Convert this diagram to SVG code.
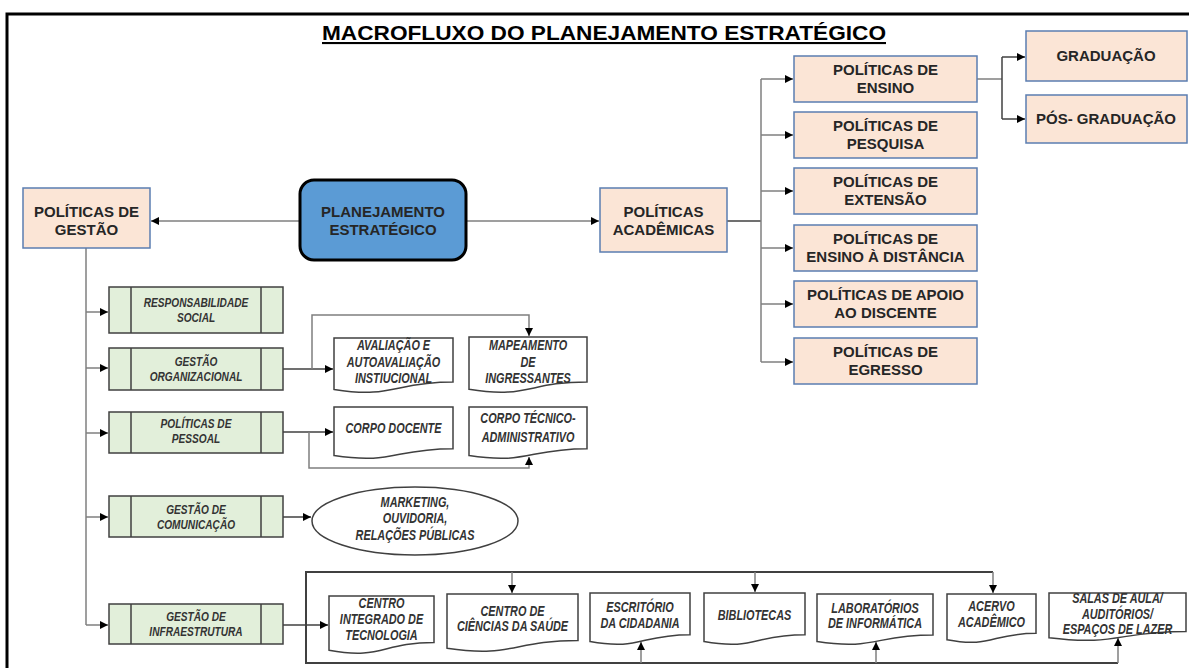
<svg xmlns="http://www.w3.org/2000/svg" width="1189" height="668" viewBox="0 0 1189 668">
<style>
.pk{fill:#FBE5D6;stroke:#5B7DB1;stroke-width:1.5}
.pt{font-family:"Liberation Sans",Arial,sans-serif;font-weight:bold;font-size:15px;fill:#262626;text-anchor:middle}
.gr{fill:#E2EFDA;stroke:#404040;stroke-width:1.5}
.gl{stroke:#404040;stroke-width:1.5}
.it{font-family:"Liberation Sans",Arial,sans-serif;font-weight:bold;font-style:italic;fill:#333;text-anchor:middle}
.g12{font-size:13.5px}
.d13{font-size:14.5px}
.doc{fill:#fff;stroke:#404040;stroke-width:1.5}
.c{fill:none;stroke:#7f7f7f;stroke-width:1.5}
.cd{fill:none;stroke:#404040;stroke-width:1.5}
.ca{fill:none;stroke:#7f7f7f;stroke-width:1.5;marker-end:url(#ah)}
.cda{fill:none;stroke:#404040;stroke-width:1.5;marker-end:url(#ah)}
</style>
<defs>
<marker id="ah" viewBox="0 0 10 10" refX="10" refY="5" markerWidth="8" markerHeight="8" markerUnits="userSpaceOnUse" orient="auto"><path d="M0,0 L10,5 L0,10 z" fill="#000"/></marker>
</defs>
<rect width="1189" height="668" fill="#fff"/>
<path d="M7 668 V14 H1189" fill="none" stroke="#000" stroke-width="3"/>
<text x="604" y="40" font-family="Liberation Sans,Arial,sans-serif" font-weight="bold" font-size="21" text-anchor="middle" text-decoration="underline" textLength="564" lengthAdjust="spacingAndGlyphs" fill="#000">MACROFLUXO DO PLANEJAMENTO ESTRATÉGICO</text>

<g id="connectors">
<path class="ca" d="M300 221 H151"/>
<path class="ca" d="M466 221 H599"/>
<path class="cd" d="M727 221 H761"/>
<path class="c" d="M761 79 V362"/>
<path class="ca" d="M761 79 H793"/>
<path class="ca" d="M761 135 H793"/>
<path class="ca" d="M761 191 H793"/>
<path class="ca" d="M761 248 H793"/>
<path class="ca" d="M761 304 H793"/>
<path class="ca" d="M761 362 H793"/>
<path class="c" d="M977 79 H1002"/>
<path class="cd" d="M1002 57 V119"/>
<path class="cda" d="M1002 57 H1025"/>
<path class="cda" d="M1002 119 H1025"/>
<path class="c" d="M86 248 V625"/>
<path class="ca" d="M86 312 H108"/>
<path class="ca" d="M86 368 H108"/>
<path class="ca" d="M86 433 H108"/>
<path class="ca" d="M86 517 H108"/>
<path class="ca" d="M86 625 H108"/>
<path class="cda" d="M283 369 H333"/>
<path class="ca" d="M312 369 V315 H529 V336"/>
<path class="cda" d="M283 432 H333"/>
<path class="ca" d="M309 432 V468 H529 V457"/>
<path class="cda" d="M282 517 H311"/>
<path class="cda" d="M282 625 H328"/>
<path fill="none" stroke="#404040" stroke-width="2" d="M993 572 H306 V663 H1118"/>
<path class="ca" d="M512 572 V593"/>
<path class="ca" d="M755 572 V592"/>
<path class="ca" d="M993 572 V593"/>
<path class="ca" d="M641 663 V642"/>
<path class="ca" d="M876 663 V642"/>
<path class="ca" d="M1118 663 V638"/>
</g>

<g id="planejamento">
<rect x="300" y="180" width="166" height="80" rx="14" fill="#5B9BD5" stroke="#000" stroke-width="3"/>
<text class="pt" x="383" y="217">PLANEJAMENTO</text>
<text class="pt" x="383" y="235">ESTRATÉGICO</text>
</g>
<g id="gestao">
<rect class="pk" x="23" y="188" width="127" height="60"/>
<text class="pt" x="86.5" y="217">POLÍTICAS DE</text>
<text class="pt" x="86.5" y="235">GESTÃO</text>
</g>
<g id="academicas">
<rect class="pk" x="600" y="188" width="127" height="64"/>
<text class="pt" x="663.5" y="217">POLÍTICAS</text>
<text class="pt" x="663.5" y="235">ACADÊMICAS</text>
</g>
<g id="ensino">
<rect class="pk" x="794" y="56" width="183" height="46"/>
<text class="pt" x="885.5" y="75">POLÍTICAS DE</text>
<text class="pt" x="885.5" y="93">ENSINO</text>
</g>
<g id="pesquisa">
<rect class="pk" x="794" y="112" width="183" height="46"/>
<text class="pt" x="885.5" y="131">POLÍTICAS DE</text>
<text class="pt" x="885.5" y="149">PESQUISA</text>
</g>
<g id="extensao">
<rect class="pk" x="794" y="168" width="183" height="46"/>
<text class="pt" x="885.5" y="187">POLÍTICAS DE</text>
<text class="pt" x="885.5" y="205">EXTENSÃO</text>
</g>
<g id="distancia">
<rect class="pk" x="794" y="225" width="183" height="46"/>
<text class="pt" x="885.5" y="244">POLÍTICAS DE</text>
<text class="pt" x="885.5" y="262">ENSINO À DISTÂNCIA</text>
</g>
<g id="apoio">
<rect class="pk" x="794" y="281" width="183" height="46"/>
<text class="pt" x="885.5" y="300">POLÍTICAS DE APOIO</text>
<text class="pt" x="885.5" y="318">AO DISCENTE</text>
</g>
<g id="egresso">
<rect class="pk" x="794" y="338" width="183" height="46"/>
<text class="pt" x="885.5" y="357">POLÍTICAS DE</text>
<text class="pt" x="885.5" y="375">EGRESSO</text>
</g>
<g id="graduacao">
<rect class="pk" x="1026" y="31" width="161" height="50"/>
<text class="pt" x="1106" y="61">GRADUAÇÃO</text>
</g>
<g id="posgraduacao">
<rect class="pk" x="1026" y="95" width="161" height="48"/>
<text class="pt" x="1106" y="124">PÓS- GRADUAÇÃO</text>
</g>

<g id="responsabilidade">
<rect class="gr" x="109" y="287" width="174" height="46"/>
<path class="gl" d="M131 287 V333 M261 287 V333"/>
<g transform="matrix(0.75 0 0 1 196 0)">
<text class="it g12" x="0" y="307.5">RESPONSABILIDADE</text>
<text class="it g12" x="0" y="322.5">SOCIAL</text>
</g>
</g>
<g id="organizacional">
<rect class="gr" x="109" y="348" width="174" height="42"/>
<path class="gl" d="M131 348 V390 M261 348 V390"/>
<g transform="matrix(0.75 0 0 1 196 0)">
<text class="it g12" x="0" y="366.5">GESTÃO</text>
<text class="it g12" x="0" y="381.5">ORGANIZACIONAL</text>
</g>
</g>
<g id="pessoal">
<rect class="gr" x="109" y="412" width="174" height="41"/>
<path class="gl" d="M131 412 V453 M261 412 V453"/>
<g transform="matrix(0.75 0 0 1 196 0)">
<text class="it g12" x="0" y="428.5">POLÍTICAS DE</text>
<text class="it g12" x="0" y="443.5">PESSOAL</text>
</g>
</g>
<g id="comunicacao">
<rect class="gr" x="109" y="496" width="174" height="41"/>
<path class="gl" d="M131 496 V537 M261 496 V537"/>
<g transform="matrix(0.75 0 0 1 196 0)">
<text class="it g12" x="0" y="514.5">GESTÃO DE</text>
<text class="it g12" x="0" y="529.5">COMUNICAÇÃO</text>
</g>
</g>
<g id="infraestrutura">
<rect class="gr" x="109" y="604" width="174" height="40"/>
<path class="gl" d="M131 604 V644 M261 604 V644"/>
<g transform="matrix(0.75 0 0 1 196 0)">
<text class="it g12" x="0" y="621.5">GESTÃO DE</text>
<text class="it g12" x="0" y="636.5">INFRAESTRUTURA</text>
</g>
</g>

<g id="avaliacao">
<path class="doc" d="M334 338 H453 V382.1 C393.5 382.1 393.5 398.9 334 389.4 Z"/>
<g transform="matrix(0.75 0 0 1 393.5 0)">
<text class="it d13" x="0" y="350">AVALIAÇÃO E</text>
<text class="it d13" x="0" y="367">AUTOAVALIAÇÃO</text>
<text class="it d13" x="0" y="383">INSTIUCIONAL</text>
</g>
</g>
<g id="mapeamento">
<path class="doc" d="M469 337 H587 V381.9 C528 381.9 528 399 469 389.3 Z"/>
<g transform="matrix(0.75 0 0 1 528 0)">
<text class="it d13" x="0" y="350">MAPEAMENTO</text>
<text class="it d13" x="0" y="367">DE</text>
<text class="it d13" x="0" y="383">INGRESSANTES</text>
</g>
</g>
<g id="docente">
<path class="doc" d="M334 407 H453 V448.7 C393.5 448.7 393.5 464.6 334 455.6 Z"/>
<g transform="matrix(0.75 0 0 1 393.5 0)">
<text class="it d13" x="0" y="433">CORPO DOCENTE</text>
</g>
</g>
<g id="tecnico">
<path class="doc" d="M469 407 H587 V448.7 C528 448.7 528 464.6 469 455.6 Z"/>
<g transform="matrix(0.75 0 0 1 528 0)">
<text class="it d13" x="0" y="423">CORPO TÉCNICO-</text>
<text class="it d13" x="0" y="442">ADMINISTRATIVO</text>
</g>
</g>
<g id="marketing">
<ellipse cx="415" cy="521" rx="103" ry="34" fill="#fff" stroke="#404040" stroke-width="1.5"/>
<g transform="matrix(0.75 0 0 1 415 0)">
<text class="it d13" x="0" y="507">MARKETING,</text>
<text class="it d13" x="0" y="523">OUVIDORIA,</text>
<text class="it d13" x="0" y="540">RELAÇÕES PÚBLICAS</text>
</g>
</g>

<g id="centro-integrado">
<path class="doc" d="M329 596 H434 V642.5 C381.5 642.5 381.5 660.2 329 650.2 Z"/>
<g transform="matrix(0.75 0 0 1 381.5 0)">
<text class="it d13" x="0" y="608">CENTRO</text>
<text class="it d13" x="0" y="624">INTEGRADO DE</text>
<text class="it d13" x="0" y="640">TECNOLOGIA</text>
</g>
</g>
<g id="ciencias-saude">
<path class="doc" d="M447 594 H578 V640.5 C512.5 640.5 512.5 658.2 447 648.2 Z"/>
<g transform="matrix(0.75 0 0 1 512.5 0)">
<text class="it d13" x="0" y="616">CENTRO DE</text>
<text class="it d13" x="0" y="631">CIÊNCIAS DA SAÚDE</text>
</g>
</g>
<g id="escritorio">
<path class="doc" d="M590 593 H690 V634.7 C640 634.7 640 650.6 590 641.6 Z"/>
<g transform="matrix(0.75 0 0 1 640 0)">
<text class="it d13" x="0" y="612">ESCRITÓRIO</text>
<text class="it d13" x="0" y="628">DA CIDADANIA</text>
</g>
</g>
<g id="bibliotecas">
<path class="doc" d="M704 593 H805 V634.7 C754.5 634.7 754.5 650.6 704 641.6 Z"/>
<g transform="matrix(0.75 0 0 1 754.5 0)">
<text class="it d13" x="0" y="620">BIBLIOTECAS</text>
</g>
</g>
<g id="laboratorios">
<path class="doc" d="M817 594 H933 V634.9 C875 634.9 875 650.5 817 641.6 Z"/>
<g transform="matrix(0.75 0 0 1 875 0)">
<text class="it d13" x="0" y="613">LABORATÓRIOS</text>
<text class="it d13" x="0" y="628">DE INFORMÁTICA</text>
</g>
</g>
<g id="acervo">
<path class="doc" d="M947 594 H1036 V633.3 C991.5 633.3 991.5 648.2 947 639.8 Z"/>
<g transform="matrix(0.75 0 0 1 991.5 0)">
<text class="it d13" x="0" y="611">ACERVO</text>
<text class="it d13" x="0" y="627">ACADÊMICO</text>
</g>
</g>
<g id="salas">
<path class="doc" d="M1049 593 H1186 V631.5 C1117.5 631.5 1117.5 646.1 1049 637.8 Z"/>
<g transform="matrix(0.75 0 0 1 1117.5 0)">
<text class="it d13" x="0" y="603">SALAS DE AULA/</text>
<text class="it d13" x="0" y="619">AUDITÓRIOS/</text>
<text class="it d13" x="0" y="634">ESPAÇOS DE LAZER</text>
</g>
</g>
</svg>
